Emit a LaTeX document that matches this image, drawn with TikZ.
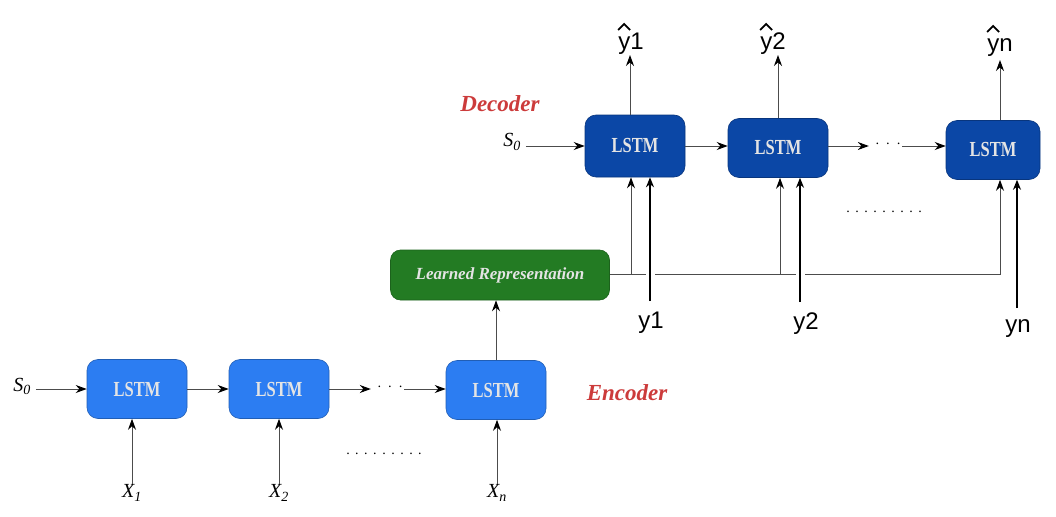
\documentclass[tikz,border=0pt]{standalone}
\usepackage{fontspec}
\setmainfont{Liberation Serif}
\newfontfamily\sansf{Liberation Sans}
\usetikzlibrary{arrows.meta,calc}
\definecolor{encblue}{HTML}{2C7DF2}
\definecolor{decblue}{HTML}{0B47A6}
\definecolor{lrgreen}{HTML}{237B23}
\definecolor{labred}{HTML}{CC3B3B}
\definecolor{boxtext}{HTML}{E4E4E4}
\newcommand{\dotrowtxt}{.\hspace{5.5pt}.\hspace{5.5pt}.\hspace{5.5pt}.\hspace{5.5pt}.\hspace{5.5pt}.\hspace{5.5pt}.\hspace{5.5pt}.\hspace{5.5pt}.}
\newcommand{\midots}{·\hspace{6pt}·\hspace{6pt}·}
\newcommand{\lstmtxt}{\scalebox{1}[1.3]{LSTM}}
\begin{document}
\begin{tikzpicture}[x=1pt,y=-1pt,
  lstm/.style={rounded corners=11pt, minimum width=100pt, minimum height=59pt, text=boxtext, inner sep=0pt,
    font=\bfseries\fontsize{16.5}{16.5}\selectfont},
  encbox/.style={lstm, fill=encblue, draw=encblue!75!black, line width=0.6pt},
  decbox/.style={lstm, fill=decblue, draw=decblue!75!black, line width=0.6pt},
  conn/.style={draw=black!70, line width=1pt, -{Stealth[length=11pt,width=8pt,color=black]}},
  plain/.style={draw=black!70, line width=1pt},
  thickconn/.style={draw=black, line width=2.6pt, -{Stealth[length=10pt,width=8pt]}},
  gap/.style={draw=white, line width=9pt},
  hatmark/.style={draw=black, line width=1.8pt, line join=miter},
  mathlab/.style={font=\fontsize{20}{20}\selectfont\itshape, inner sep=1pt},
  outlab/.style={font=\sansf\fontsize{24}{24}\selectfont, inner sep=1pt},
  partlab/.style={font=\bfseries\itshape\fontsize{23}{23}\selectfont, text=labred},
  dots/.style={font=\fontsize{14}{14}\selectfont, inner sep=0pt}
]
\useasboundingbox (0,0) rectangle (1056,516);

% Encoder
\node[encbox] (e1) at (137,389) {\lstmtxt};
\node[encbox] (e2) at (279,389) {\lstmtxt};
\node[encbox] (e3) at (496,390) {\lstmtxt};
\node[mathlab] (s0e) at (22,386) {S\textsubscript{0}};
\node[dots] (ed) at (390,389) {\raisebox{-1.5pt}{\midots}};
\node[dots] (edd) at (384,454) {\dotrowtxt};
\node[mathlab] (x1) at (132,493) {X\textsubscript{1}};
\node[mathlab] (x2) at (279,493) {X\textsubscript{2}};
\node[mathlab] (xn) at (497,493) {X\textsubscript{n}};
\node[partlab] (enc) at (627,393) {Encoder};

\draw[conn] (s0e.east |- e1.west) ++(4,0) -- (e1.west);
\draw[conn] (e1.east) -- (e2.west);
\draw[conn] (e2.east) -- ($(ed.west)+(-6,0)$);
\draw[conn] ($(ed.east)+(1,0)$) -- (ed.east -| e3.west);
\draw[conn] (x1.north) -- (x1.north |- e1.south);
\draw[conn] (x2.north) -- (x2.north |- e2.south);
\draw[conn] (xn.north) -- (xn.north |- e3.south);

% Learned representation
\node[rounded corners=10pt, fill=lrgreen, draw=lrgreen!80!black, line width=0.6pt,
  minimum width=219pt, minimum height=50pt, text=boxtext, inner sep=0pt,
  font=\bfseries\itshape\fontsize{17}{17}\selectfont] (lr) at (500,275) {Learned Representation};
\draw[conn] (e3.north) -- (e3.north |- lr.south);

% Decoder
\node[decbox, minimum height=62pt] (d1) at (635,146) {\lstmtxt};
\node[decbox] (d2) at (778,148) {\lstmtxt};
\node[decbox, minimum width=94pt] (d3) at (993,150) {\lstmtxt};
\node[mathlab] (s0d) at (512,142) {S\textsubscript{0}};
\node[dots] (dd) at (888,146) {\raisebox{-1.5pt}{\midots}};
\node[dots] (ddd) at (884,212) {\dotrowtxt};
\node[partlab] (dec) at (500,104) {Decoder};

\draw[conn] (s0d.east |- d1.west) ++(4,0) -- (d1.west);
\draw[conn] (d1.east) -- (d1.east -| d2.west);
\draw[conn] (d2.east |- dd.west) -- ($(dd.west)+(-6,0)$);
\draw[conn] ($(dd.east)+(1,0)$) -- (dd.east -| d3.west);

% outputs
\node[outlab, anchor=base] (o1) at (631,50) {y1};
\node[outlab, anchor=base] (o2) at (773,50) {y2};
\node[outlab, anchor=base] (on) at (1000,52) {yn};
\draw[hatmark] ($(o1.base west)+(1,-20)$) -- ++(6,-6) -- ++(6,6);
\draw[hatmark] ($(o2.base west)+(1,-20)$) -- ++(6,-6) -- ++(6,6);
\draw[hatmark] ($(on.base west)+(1,-20)$) -- ++(6,-6) -- ++(6,6);
\coordinate (t1) at (630,55);
\coordinate (t2) at (778,55);
\coordinate (tn) at (1000,60);
\draw[conn] (d1.north -| t1) -- (t1);
\draw[conn] (d2.north -| t2) -- (t2);
\draw[conn] (d3.north -| tn) -- (tn);

% representation feed lines
\coordinate (j1) at (631,274);
\coordinate (j2) at (780,274);
\coordinate (jn) at (1000,274);
\draw[plain] (lr.east |- j1) -- (j1);
\draw[conn] (j1) -- (j1 |- d1.south);
\draw[plain] (j1) -- (j2);
\draw[conn] (j2) -- (j2 |- d2.south);
\draw[conn] (j2) -| (jn |- d3.south);

% teacher inputs
\node[outlab, anchor=base] (y1) at (651,328) {y1};
\node[outlab, anchor=base] (y2) at (806,329) {y2};
\node[outlab, anchor=base] (yn) at (1018,332) {yn};
\coordinate (b1) at (650,301);
\coordinate (b2) at (800,302);
\coordinate (bn) at (1017,308);
\draw[gap] (b1 |- j1) ++(0,-4) -- ++(0,8);
\draw[gap] (b2 |- j2) ++(0,-4) -- ++(0,8);
\draw[thickconn] (b1) -- (b1 |- d1.south);
\draw[thickconn] (b2) -- (b2 |- d2.south);
\draw[thickconn] (bn) -- (bn |- d3.south);
\end{tikzpicture}
\end{document}
